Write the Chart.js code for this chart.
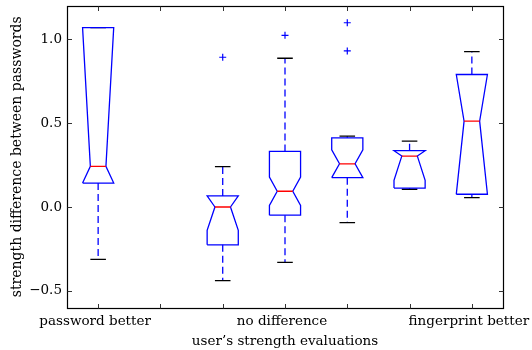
<!DOCTYPE html>
<html>
<head>
<meta charset="utf-8">
<script src="https://cdn.jsdelivr.net/npm/chart.js@4"></script>
<style>
  html, body { margin: 0; padding: 0; background: #fff; }
</style>
</head>
<body>
<canvas id="c" width="532" height="350"></canvas>
<script>
// Category labels for x positions 1..7
const categories = ['password better', '', '', 'no difference', '', '', 'fingerprint better'];
// y axis tick values and their labels
const yTickValues = [-0.5, 0.0, 0.5, 1.0];
const yTickLabels = ['\u22120.5', '0.0', '0.5', '1.0'];

// Box statistics, one entry per box
const positions  = [1, 3, 4, 5, 6, 7];
const lowerCaps  = [-0.313, -0.439, -0.331, -0.093, 0.106, 0.056];
const q1s        = [0.143, -0.226, -0.049, 0.175, 0.113, 0.076];
const notchLows  = [0.143, -0.139, 0.010, 0.175, 0.159, 0.076];
const medians    = [0.2425, 0.000, 0.094, 0.258, 0.304, 0.5125];
const notchHighs = [1.071, 0.066, 0.178, 0.342, 0.336, 0.791];
const q3s        = [1.071, 0.066, 0.332, 0.413, 0.336, 0.791];
const upperCaps  = [1.071, 0.241, 0.888, 0.423, 0.393, 0.928];
// Outliers: [position, value]
const fliers = [[3, 0.894], [4, 1.025], [5, 0.932], [5, 1.10]];

const BOX_HALF = 0.25;    // half box width in x units
const NOTCH_HALF = 0.125; // half width at the median notch
const CAP_HALF = 0.125;

const boxPts = [], medPts = [], whiskerPts = [], capPts = [];
positions.forEach((p, i) => {
  const L = p - BOX_HALF, R = p + BOX_HALF;
  boxPts.push(
    {x: L, y: q1s[i]}, {x: L, y: notchLows[i]}, {x: p - NOTCH_HALF, y: medians[i]},
    {x: L, y: notchHighs[i]}, {x: L, y: q3s[i]}, {x: R, y: q3s[i]},
    {x: R, y: notchHighs[i]}, {x: p + NOTCH_HALF, y: medians[i]}, {x: R, y: notchLows[i]},
    {x: R, y: q1s[i]}, {x: L, y: q1s[i]}, {x: p, y: null}
  );
  medPts.push({x: p - NOTCH_HALF, y: medians[i]}, {x: p + NOTCH_HALF, y: medians[i]}, {x: p, y: null});
  whiskerPts.push({x: p, y: q1s[i]}, {x: p, y: lowerCaps[i]}, {x: p, y: null},
                  {x: p, y: q3s[i]}, {x: p, y: upperCaps[i]}, {x: p, y: null});
  capPts.push({x: p - CAP_HALF, y: lowerCaps[i]}, {x: p + CAP_HALF, y: lowerCaps[i]}, {x: p, y: null},
              {x: p - CAP_HALF, y: upperCaps[i]}, {x: p + CAP_HALF, y: upperCaps[i]}, {x: p, y: null});
});
const flierPts = fliers.map(([p, v]) => ({x: p, y: v}));

const FONT = 'DejaVu Serif';

// Frame on all four sides plus inward tick marks, placed at the axis limits
const framePlugin = {
  id: 'frame',
  afterDraw(chart) {
    const {ctx, scales: {x, y}} = chart;
    const left = Math.round(x.getPixelForValue(x.min)) + 0.5;
    const right = Math.round(x.getPixelForValue(x.max)) + 0.5;
    const top = Math.round(y.getPixelForValue(y.max)) + 0.5;
    const bottom = Math.round(y.getPixelForValue(y.min)) + 0.5;
    ctx.save();
    ctx.strokeStyle = '#000';
    ctx.lineWidth = 1.2;
    ctx.strokeRect(left, top, right - left, bottom - top);
    ctx.strokeStyle = '#333';
    ctx.lineWidth = 1;
    ctx.beginPath();
    const tl = 4.5;
    categories.forEach((_, i) => {
      const px = Math.round(x.getPixelForValue(i + 1)) + 0.5;
      ctx.moveTo(px, bottom); ctx.lineTo(px, bottom - tl);
      ctx.moveTo(px, top); ctx.lineTo(px, top + tl);
    });
    yTickValues.forEach(v => {
      const py = Math.round(y.getPixelForValue(v)) + 0.5;
      ctx.moveTo(left, py); ctx.lineTo(left + tl, py);
      ctx.moveTo(right, py); ctx.lineTo(right - tl, py);
    });
    ctx.stroke();
    ctx.restore();
  }
};

new Chart(document.getElementById('c'), {
  type: 'scatter',
  data: {
    datasets: [
      { label: 'fliers', data: flierPts, showLine: false, pointStyle: 'cross',
        pointRadius: 3.5, pointBorderColor: '#0000ff', pointBorderWidth: 1.2, order: 0 },
      { label: 'medians', data: medPts, showLine: true, borderColor: '#ff0000', borderWidth: 1.3,
        pointRadius: 0, spanGaps: false, order: 1 },
      { label: 'boxes', data: boxPts, showLine: true, borderColor: '#0000ff', borderWidth: 1.3,
        pointRadius: 0, spanGaps: false, order: 2 },
      { label: 'caps', data: capPts, showLine: true, borderColor: '#000000', borderWidth: 1.3,
        pointRadius: 0, spanGaps: false, order: 3 },
      { label: 'whiskers', data: whiskerPts, showLine: true, borderColor: '#0000ff', borderWidth: 1.3,
        borderDash: [7, 4], pointRadius: 0, spanGaps: false, order: 4 }
    ]
  },
  options: {
    responsive: false,
    animation: false,
    devicePixelRatio: 1,
    layout: { padding: { top: 6, right: 29, left: 0, bottom: 0 } },
    plugins: { legend: { display: false }, tooltip: { enabled: false } },
    scales: {
      x: {
        type: 'linear', min: 0.5, max: 7.5,
        grid: { display: false, drawTicks: false },
        border: { display: false },
        afterBuildTicks: axis => { axis.ticks = categories.map((_, i) => ({ value: i + 1 })); },
        afterFit: axis => { axis.height = 42.5; axis.paddingLeft = 0; axis.paddingRight = 0; },
        ticks: {
          autoSkip: false, maxRotation: 0, padding: 6, labelOffset: -3, color: '#000',
          font: { family: FONT, size: 13.5 },
          callback: v => categories[Math.round(v) - 1] || ''
        },
        title: {
          display: true, text: 'user\u2019s strength evaluations', color: '#000',
          font: { family: FONT, size: 13.5 }, padding: { top: 0, bottom: 0 }
        }
      },
      y: {
        type: 'linear', min: -0.6, max: 1.2,
        grid: { display: false, drawTicks: false },
        border: { display: false },
        afterBuildTicks: axis => { axis.ticks = yTickValues.map(v => ({ value: v })); },
        afterFit: axis => { axis.width = 67; axis.paddingTop = 0; axis.paddingBottom = 0; },
        ticks: {
          padding: 5, color: '#000',
          font: { family: FONT, size: 13.5 },
          callback: v => yTickLabels[yTickValues.findIndex(t => Math.abs(t - v) < 1e-9)]
        },
        title: {
          display: true, text: 'strength difference between passwords', color: '#000',
          font: { family: FONT, size: 14 }, padding: { top: 9, bottom: 0 }
        }
      }
    }
  },
  plugins: [framePlugin]
});
</script>
</body>
</html>
